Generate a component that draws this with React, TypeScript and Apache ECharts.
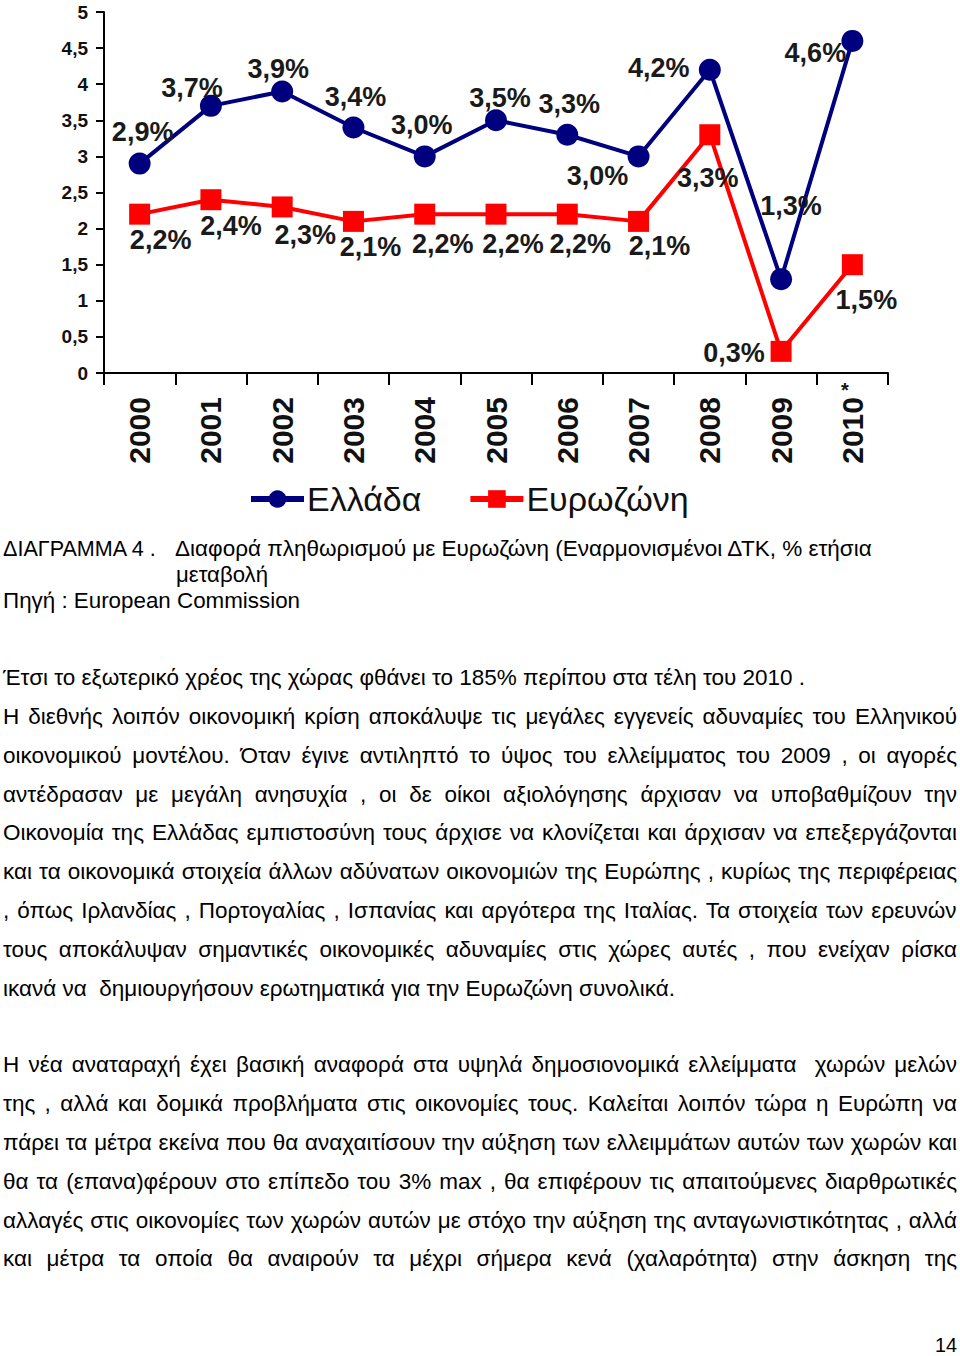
import React, { useEffect, useRef } from "react";
import * as echarts from "echarts";

const FONT = '"Liberation Sans", Arial, Helvetica, sans-serif';

const years = ["2000", "2001", "2002", "2003", "2004", "2005", "2006", "2007", "2008", "2009", "2010"];
const greece = [2.9, 3.7, 3.9, 3.4, 3.0, 3.5, 3.3, 3.0, 4.2, 1.3, 4.6];
const eurozone = [2.2, 2.4, 2.3, 2.1, 2.2, 2.2, 2.2, 2.1, 3.3, 0.3, 1.5];
const seriesNames = ["Ελλάδα", "Ευρωζώνη"];

// label offsets (px) relative to each point
const greeceLabelOffsets = [
  [3, -32], [-19, -18], [-4, -22], [2, -31], [-3, -31], [4, -22],
  [2, -31], [-41, 20], [-51, -2], [10, -73], [-37, 12],
];
const euroLabelOffsets = [
  [21, 26], [20, 26], [23, 28], [17, 26], [18, 30], [17, 30],
  [13, 30], [21, 25], [-2, 43], [-47, 2], [14, 35],
];

type Line = { text: string; x: number; y: number; w: number; mode: "justify" | "fit"; size?: number };

const textLines: Line[] = [
  { text: "ΔΙΑΓΡΑΜΜΑ 4 .", x: 3, y: 549, w: 154, mode: "fit" },
  { text: "Διαφορά πληθωρισμού με Ευρωζώνη (Εναρμονισμένοι ΔΤΚ, % ετήσια", x: 175, y: 549, w: 698, mode: "fit" },
  { text: "μεταβολή", x: 176, y: 575, w: 92, mode: "fit" },
  { text: "Πηγή : European Commission", x: 3, y: 601, w: 297, mode: "fit" },
  { text: "Έτσι το εξωτερικό χρέος της χώρας φθάνει το 185% περίπου στα τέλη του 2010 .", x: 3, y: 678, w: 802, mode: "fit" },
  { text: "Η διεθνής λοιπόν οικονομική κρίση αποκάλυψε τις μεγάλες εγγενείς αδυναμίες του Ελληνικού", x: 3, y: 717, w: 954, mode: "justify" },
  { text: "οικονομικού μοντέλου. Όταν έγινε αντιληπτό το ύψος του ελλείμματος του 2009 , οι αγορές", x: 3, y: 756, w: 954, mode: "justify" },
  { text: "αντέδρασαν με μεγάλη ανησυχία , οι δε οίκοι αξιολόγησης άρχισαν να υποβαθμίζουν την", x: 3, y: 795, w: 954, mode: "justify" },
  { text: "Οικονομία της Ελλάδας εμπιστοσύνη τους άρχισε να κλονίζεται και άρχισαν να επεξεργάζονται", x: 3, y: 833, w: 954, mode: "justify" },
  { text: "και τα οικονομικά στοιχεία άλλων αδύνατων οικονομιών της Ευρώπης , κυρίως της περιφέρειας", x: 3, y: 872, w: 954, mode: "justify" },
  { text: ", όπως Ιρλανδίας , Πορτογαλίας , Ισπανίας και αργότερα της Ιταλίας. Τα στοιχεία των ερευνών", x: 3, y: 911, w: 954, mode: "justify" },
  { text: "τους αποκάλυψαν σημαντικές οικονομικές αδυναμίες στις χώρες αυτές , που ενείχαν ρίσκα", x: 3, y: 950, w: 954, mode: "justify" },
  { text: "ικανά να  δημιουργήσουν ερωτηματικά για την Ευρωζώνη συνολικά.", x: 3, y: 989, w: 672, mode: "fit" },
  { text: "Η νέα αναταραχή έχει βασική αναφορά στα υψηλά δημοσιονομικά ελλείμματα  χωρών μελών", x: 3, y: 1065, w: 954, mode: "justify" },
  { text: "της , αλλά και δομικά προβλήματα στις οικονομίες τους. Καλείται λοιπόν τώρα η Ευρώπη να", x: 3, y: 1104, w: 954, mode: "justify" },
  { text: "πάρει τα μέτρα εκείνα που θα αναχαιτίσουν την αύξηση των ελλειμμάτων αυτών των χωρών και", x: 3, y: 1143, w: 954, mode: "justify" },
  { text: "θα τα (επανα)φέρουν στο επίπεδο του 3% max , θα επιφέρουν τις απαιτούμενες διαρθρωτικές", x: 3, y: 1182, w: 954, mode: "justify" },
  { text: "αλλαγές στις οικονομίες των χωρών αυτών με στόχο την αύξηση της ανταγωνιστικότητας , αλλά", x: 3, y: 1221, w: 954, mode: "justify" },
  { text: "και μέτρα τα οποία θα αναιρούν τα μέχρι σήμερα κενά (χαλαρότητα) στην άσκηση της", x: 3, y: 1259, w: 954, mode: "justify" },
  { text: "14", x: 935, y: 1345, w: 22, mode: "fit", size: 21 },
];

const BODY_SIZE = 22.5;

let measureCtx: CanvasRenderingContext2D | null = null;
function measure(text: string, font: string): number {
  if (!measureCtx) measureCtx = document.createElement("canvas").getContext("2d");
  if (!measureCtx) return text.length * 10;
  measureCtx.font = font;
  return measureCtx.measureText(text).width;
}

function TextLine({ line }: { line: Line }) {
  const size = line.size || BODY_SIZE;
  const font = `${size}px ${FONT}`;
  const natural = measure(line.text, font);
  const spaces = (line.text.match(/ /g) || []).length;
  let wordSpacing = 0;
  let scale = 1;
  if (line.mode === "justify" && spaces > 0 && natural <= line.w) {
    wordSpacing = (line.w - natural) / spaces;
  } else {
    scale = line.w / natural;
  }
  return (
    <div
      style={{
        position: "absolute",
        left: line.x,
        top: line.y - 14,
        height: 28,
        lineHeight: "28px",
        fontFamily: FONT,
        fontSize: size,
        color: "#000",
        whiteSpace: "pre",
        wordSpacing: `${wordSpacing}px`,
        transform: `scaleX(${scale})`,
        transformOrigin: "left center",
      }}
    >
      {line.text}
    </div>
  );
}

const fmt = (v: number) => v.toFixed(1).replace(".", ",") + "%";

export default function App() {
  const ref = useRef<HTMLDivElement>(null);

  useEffect(() => {
    if (!ref.current) return;
    const chart = echarts.init(ref.current, null, { renderer: "svg" });
    const labelBase = {
      show: true,
      position: "inside",
      fontFamily: FONT,
      fontSize: 27,
      fontWeight: "bold",
      color: "#1a1a1a",
      formatter: (p: any) => fmt(Number(p.value)),
    };
    chart.setOption({
      animation: false,
      backgroundColor: "#ffffff",
      grid: { left: 104, right: 72, top: 12, bottom: 147, containLabel: false },
      legend: {
        data: seriesNames,
        left: 243,
        top: 477,
        itemWidth: 53,
        itemHeight: 22,
        itemGap: 46,
        lineStyle: { width: 6 },
        textStyle: { fontFamily: FONT, fontSize: 34, color: "#111", padding: [0, 0, 0, -2] },
      },
      xAxis: {
        type: "category",
        data: years,
        boundaryGap: true,
        axisLine: { lineStyle: { color: "#000", width: 2 } },
        axisTick: { show: true, length: 12, lineStyle: { color: "#000", width: 2 } },
        axisLabel: {
          rotate: 90,
          margin: 24,
          fontFamily: FONT,
          fontSize: 30,
          fontWeight: "bold",
          color: "#111",
        },
      },
      yAxis: {
        type: "value",
        min: 0,
        max: 5,
        interval: 0.5,
        splitLine: { show: false },
        axisLine: { show: true, lineStyle: { color: "#000", width: 2 } },
        axisTick: { show: true, length: 8, lineStyle: { color: "#000", width: 2 } },
        axisLabel: {
          margin: 16,
          fontFamily: FONT,
          fontSize: 19,
          fontWeight: "bold",
          color: "#111",
          formatter: (v: number) => String(v).replace(".", ","),
        },
      },
      series: [
        {
          name: seriesNames[0],
          type: "line",
          data: greece.map((v, i) => ({ value: v, label: { offset: greeceLabelOffsets[i] } })),
          symbol: "circle",
          symbolSize: 22,
          color: "#00007f",
          lineStyle: { color: "#00007f", width: 4 },
          itemStyle: { color: "#00007f" },
          label: labelBase,
          z: 3,
        },
        {
          name: seriesNames[1],
          type: "line",
          data: eurozone.map((v, i) => ({ value: v, label: { offset: euroLabelOffsets[i] } })),
          symbol: "rect",
          symbolSize: 21,
          color: "#ff0000",
          lineStyle: { color: "#ff0000", width: 4 },
          itemStyle: { color: "#ff0000" },
          label: labelBase,
          z: 2,
        },
      ],
      graphic: [
        {
          type: "text",
          left: 841,
          top: 380,
          style: { text: "*", fontFamily: FONT, fontSize: 20, fontWeight: "bold", fill: "#111" },
        },
      ],
    });
    return () => chart.dispose();
  }, []);

  return (
    <div
      style={{
        position: "absolute",
        left: 0,
        top: 0,
        width: 960,
        height: 1356,
        background: "#fff",
        overflow: "hidden",
      }}
    >
      <div ref={ref} style={{ position: "absolute", left: 0, top: 0, width: 960, height: 520 }} />
      {textLines.map((l, i) => (
        <TextLine key={i} line={l} />
      ))}
    </div>
  );
}
